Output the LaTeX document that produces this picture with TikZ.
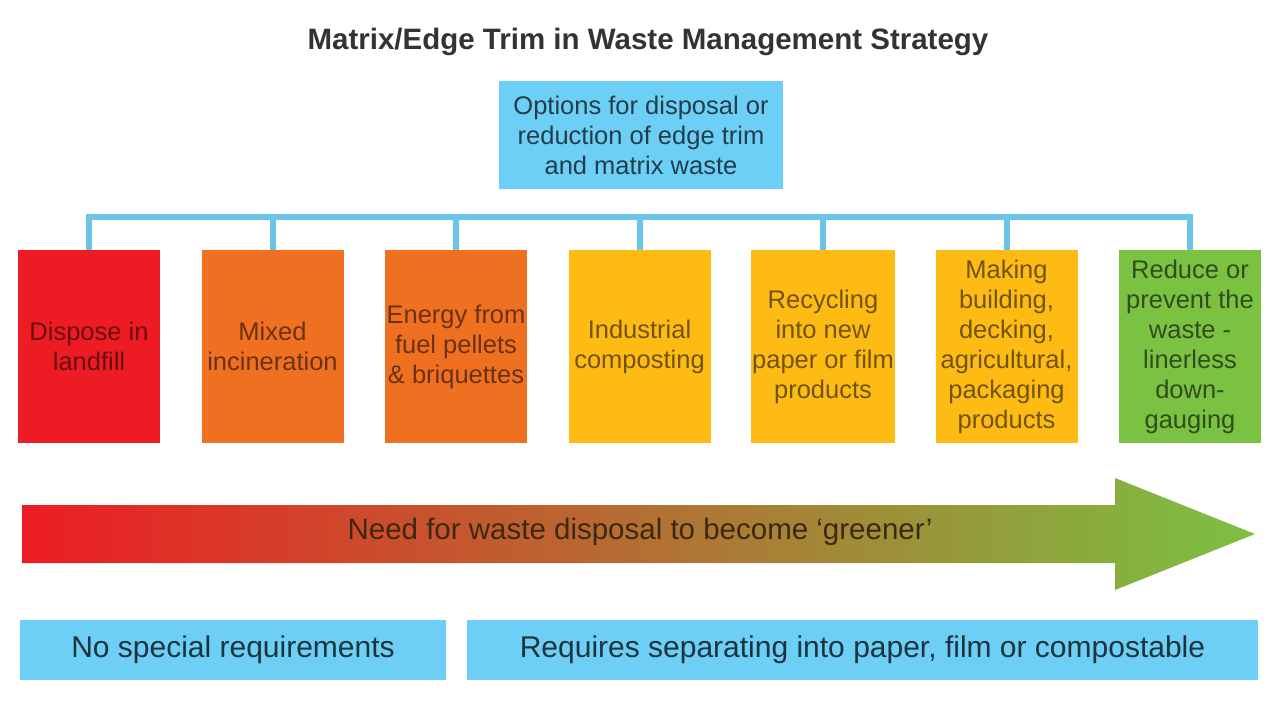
\documentclass[tikz,border=0pt]{standalone}
\usepackage{fontspec}
\setmainfont{Liberation Sans}
\usetikzlibrary{positioning}
\definecolor{skyblue}{HTML}{6DCFF6}
\definecolor{busblue}{HTML}{6CC4E8}
\definecolor{landred}{HTML}{ED1C24}
\definecolor{burnorange}{HTML}{F07022}
\definecolor{amber}{HTML}{FDBB14}
\definecolor{leafgreen}{HTML}{7BC142}
\definecolor{midbrown}{HTML}{C98A30}
\begin{document}
\begin{tikzpicture}[
  x=1pt, y=-1pt,
  block/.style={rectangle, minimum width=142pt, minimum height=193pt, inner sep=1pt, align=center, font=\fontsize{25.5}{30}\selectfont},
  infobox/.style={rectangle, fill=skyblue, minimum height=60pt, align=center, text=skyblue!25!black, font=\fontsize{30}{30}\selectfont},
  bus/.style={draw=busblue, line width=6pt},
  node distance=183.5pt
]
\useasboundingbox (0,0) rectangle (1280,720);
\node[font=\bfseries\fontsize{29.5}{30}\selectfont, text=black!80] (title) at (648,42) {Matrix/Edge Trim in Waste Management Strategy};
\node[infobox, minimum width=284pt, minimum height=108pt, text=skyblue!30!black, font=\fontsize{25.5}{30}\selectfont] (options) at (641,135) {Options for disposal or\\reduction of edge trim\\and matrix waste};

\node[block, fill=landred, text=landred!45!black] (landfill) at (89,346.5) {Dispose in\\landfill};
\node[block, fill=burnorange, text=burnorange!45!black, right of=landfill] (incin) {Mixed\\incineration};
\node[block, fill=burnorange, text=burnorange!45!black, right of=incin] (pellets) {Energy from\\fuel pellets\\\& briquettes};
\node[block, fill=amber, text=amber!45!black, right of=pellets] (compost) {Industrial\\composting};
\node[block, fill=amber, text=amber!45!black, right of=compost] (recycle) {Recycling\\into new\\paper or film\\products};
\node[block, fill=amber, text=amber!45!black, right of=recycle] (making) {Making\\building,\\decking,\\agricultural,\\packaging\\products};
\node[block, fill=leafgreen, text=leafgreen!40!black, right of=making] (reduce) {Reduce or\\prevent the\\waste -\\linerless\\down-\\gauging};

\coordinate (bus) at (640,217);
\draw[bus] (landfill.north) |- (reduce.north |- bus) -- (reduce.north);
\foreach \b in {incin,pellets,compost,recycle,making}
  \draw[bus] (\b.north |- bus) -- (\b.north);

% greener arrow
\shade[left color=landred, middle color=midbrown, right color=leafgreen]
  (22,505) -- (1115,505) -- (1115,478) -- (1255,534) -- (1115,590) -- (1115,563) -- (22,563) -- cycle;
\node[font=\fontsize{29.5}{30}\selectfont, text=midbrown!30!black] (need) at (640,532) {Need for waste disposal to become ‘greener’};

\node[infobox, minimum width=426pt] (nospecial) at (233,650) {No special requirements};
\node[infobox, minimum width=791pt] (separate) at (862.5,650) {Requires separating into paper, film or compostable};
\end{tikzpicture}
\end{document}
